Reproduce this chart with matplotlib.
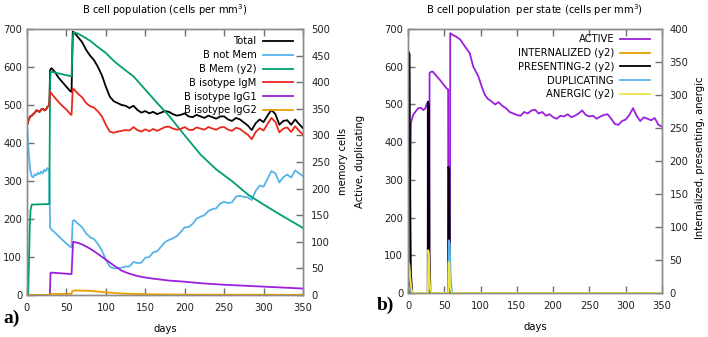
import matplotlib
matplotlib.use('Agg')
import matplotlib.pyplot as plt

plt.rcParams['font.family'] = ['DejaVu Sans']
plt.rcParams['xtick.direction'] = 'in'
plt.rcParams['ytick.direction'] = 'in'
plt.rcParams['xtick.top'] = True

# ---- panel a) : B cell population ----
days_a = [0, 2, 4, 6, 8, 10, 12, 14, 16, 18, 20, 22, 24, 26, 28.3, 29.3, 31, 35, 40, 45, 50, 55, 56.5, 58, 60] + \
         list(range(65, 351, 5))
total = [447, 460, 470, 472, 476, 480, 486, 484, 482, 488, 490, 486, 488, 495, 500, 592, 597, 588, 572, 560, 548, 536,
         535, 693, 690,
         678, 665, 645, 630, 618, 600, 578, 548, 522, 510, 505, 500, 498, 492, 498, 487, 480, 484, 478, 482, 476, 480,
         484, 482, 476, 472, 474, 478, 470, 468, 474, 470, 466, 472, 468, 464, 470, 470, 462, 458, 466, 462, 454, 446,
         434, 452, 462, 455, 472, 487, 476, 448, 458, 460, 448, 462, 450, 439]
not_mem = [447, 380, 330, 312, 310, 318, 315, 322, 318, 325, 320, 330, 326, 334, 330, 178, 172, 165, 155, 145, 135, 127,
           125, 195, 197,
           187, 178, 162, 152, 147, 134, 117, 93, 75, 70, 71, 72, 75, 75, 87, 84, 85, 98, 100, 112, 115, 127,
           139, 145, 149, 155, 166, 178, 179, 187, 201, 206, 210, 221, 226, 228, 241, 245, 242, 244, 259, 261, 258, 257,
           250, 274, 288, 285, 306, 326, 320, 296, 310, 317, 309, 328, 320, 313]
igm = [447, 460, 470, 472, 476, 480, 486, 484, 482, 488, 490, 486, 488, 495, 500, 535, 530, 520, 508, 497, 488, 476,
       474, 544, 540,
       529, 520, 505, 497, 493, 483, 470, 448, 430, 427, 430, 432, 434, 433, 442, 434, 430, 436, 431, 437, 432, 437,
       442, 443, 438, 435, 437, 442, 435, 434, 441, 438, 435, 442, 438, 435, 441, 442, 435, 432, 440, 437, 429, 422,
       410, 429, 439, 433, 450, 466, 455, 428, 438, 441, 429, 444, 432, 422]

mem_days = [0, 1.5, 2.5, 3.5, 4.5, 6, 28.3, 29.3, 30, 56.5, 58, 59, 65, 70, 80, 90, 100, 110, 120, 135, 150, 165, 180,
            200, 220, 240, 260, 280, 300, 320, 350]
mem = [0, 0, 60, 130, 160, 170, 171, 400, 420, 411, 480, 494, 491, 487, 478, 466, 455, 440, 428, 411, 386, 361, 337,
       300, 264, 236, 214, 189, 170, 152, 126]

igg1_days = [0, 29, 29.8, 31, 56.5, 57.5, 58.5, 65, 70, 80, 90, 100, 110, 120, 130, 140, 150, 160, 180, 200, 220, 250,
             300, 350]
igg1 = [0, 0, 58, 59, 55, 100, 140, 137, 133, 122, 108, 93, 78, 64, 56, 50, 46, 43, 38, 35, 31, 27, 22, 17]

igg2_days = [0, 29, 30, 56.5, 57.5, 60, 80, 100, 120, 150, 200, 350]
igg2 = [0, 0, 3, 3, 10, 12, 11, 7, 4, 2, 1, 0.5]

# ---- panel b) : B cell population per state ----
act_days = [0, 2.5, 3.2, 4, 7, 10, 14, 18, 21, 24, 26, 27.2, 27.4, 29.4, 29.7, 31, 34, 38, 44, 50, 53, 55.3, 55.5,
            57.8, 58.2, 60, 66, 72, 78, 85, 90, 97, 102, 106] + list(range(110, 351, 5))
active = [0, 0, 300, 450, 472, 480, 490, 491, 485, 490, 503, 500, 0, 0, 583, 586, 587, 578, 565, 550, 543, 540, 0,
          0, 689, 686, 680, 672, 655, 636, 600, 574, 545, 525,
          515, 508, 500, 506, 496, 490, 480, 476, 472, 470, 480, 476, 484, 486, 476, 480, 470, 474, 466, 462, 470,
          468, 474, 466, 470, 476, 484, 472, 468, 470, 462, 468, 472, 474, 462, 448, 446, 456, 460, 472, 490, 470,
          456, 466, 462, 458, 464, 446, 441]

int_days = [0, 0.3, 1.5, 3, 5, 27.3, 28, 29.5, 31, 55.3, 56, 57.5, 59, 350]
internalized = [0, 48, 45, 20, 0, 0, 8, 5, 0, 0, 5, 3, 0, 0]

pres_days = [0, 0.3, 2.2, 3, 4, 6, 27.2, 27.5, 28.9, 29.6, 31, 55.3, 55.6, 56.9, 57.6, 59, 350]
presenting = [0, 366, 362, 150, 30, 0, 0, 290, 285, 60, 0, 0, 191, 185, 40, 0, 0]

dup_days = [0, 0.5, 2, 4, 6, 27.5, 28.5, 29.5, 31, 33, 55.5, 56.3, 57.5, 59, 61, 350]
duplicating = [0, 10, 15, 5, 0, 0, 20, 25, 5, 0, 0, 140, 130, 30, 0, 0]

an_days = [0, 0.5, 2, 3, 5, 7, 27.4, 27.8, 28.8, 30, 32, 55.5, 55.9, 56.9, 58, 60, 350]
anergic = [0, 45, 42, 25, 5, 0, 0, 65, 60, 15, 0, 0, 47, 45, 10, 0, 0]

PURPLE = '#9a20dc'
LBLUE = '#56b4e9'
GREEN = '#009e73'
RED = '#e8281a'
ORANGE = '#e69f00'
YELLOW = '#f0e442'
GREY = '#8c8c8c'
TICK = '#707070'
FS = 7.2
LW = 1.3

fig = plt.figure(figsize=(7.08, 3.37), dpi=100)


def style(ax, ax2, pad2):
    for a in (ax, ax2):
        for s in a.spines.values():
            s.set_color(GREY)
            s.set_linewidth(1.0)
    ax.tick_params(direction='in', length=5, width=1.0, color=TICK, labelsize=FS, labelcolor='#222222',
                   top=True, pad=4)
    ax.tick_params(axis='y', pad=3.5)
    ax.tick_params(axis='x', pad=5.5)
    ax2.tick_params(direction='in', length=5, width=1.0, color=TICK, labelsize=FS, labelcolor='#222222',
                    pad=pad2)
    ax.set_xlim(0, 350)
    ax.set_xticks(range(0, 351, 50))


# panel a
ax = fig.add_axes([27 / 708, 1 - 295 / 337, 276 / 708, 266 / 337])
ax2 = ax.twinx()
ax.set_zorder(ax2.get_zorder() + 1)
ax.patch.set_visible(False)
ax.set_ylim(0, 700)
ax.set_yticks(range(0, 701, 100))
ax2.set_ylim(0, 500)
ax2.set_yticks(range(0, 501, 50))
style(ax, ax2, 6)

# same drawing order as the legend, y2 series through ax2's scale
ax.plot(days_a, total, color='black', lw=LW, label='Total')
ax.plot(days_a, not_mem, color=LBLUE, lw=LW, label='B not Mem')
ax.plot(mem_days, mem, color=GREEN, lw=LW, label='B Mem (y2)', transform=ax2.transData)
ax.plot(days_a, igm, color=RED, lw=LW, label='B isotype IgM')
ax.plot(igg1_days, igg1, color=PURPLE, lw=LW, label='B isotype IgG1')
ax.plot(igg2_days, igg2, color=ORANGE, lw=LW, label='B isotype IgG2')
ax.set_ylim(0, 700)

ax.legend(loc='upper right', bbox_to_anchor=(0.962, 0.972), frameon=False, markerfirst=False, fontsize=FS,
          handlelength=3.0, handletextpad=0.6, labelspacing=0.38, borderpad=0, borderaxespad=0)
fig.text(165 / 708, 1 - 10 / 337, 'B cell population (cells per mm$^3$)', ha='center', va='center', fontsize=FS)

# panel b
bx = fig.add_axes([408 / 708, 1 - 293 / 337, 254 / 708, 264 / 337])
bx2 = bx.twinx()
bx.set_zorder(bx2.get_zorder() + 1)
bx.patch.set_visible(False)
bx2.set_ylim(0, 400)
bx2.set_yticks(range(0, 401, 50))
style(bx, bx2, 5.5)

bx.plot(act_days, active, color=PURPLE, lw=LW, label='ACTIVE')
bx.plot(int_days, internalized, color=ORANGE, lw=LW, label='INTERNALIZED (y2)', transform=bx2.transData)
bx.plot(pres_days, presenting, color='black', lw=LW, label='PRESENTING-2 (y2)', transform=bx2.transData)
bx.plot(dup_days, duplicating, color=LBLUE, lw=LW, label='DUPLICATING')
bx.plot(an_days, anergic, color=YELLOW, lw=LW, label='ANERGIC (y2)', transform=bx2.transData)
bx.set_ylim(0, 700)
bx.set_yticks(range(0, 701, 100))

bx.legend(loc='upper right', bbox_to_anchor=(0.953, 0.98), frameon=False, markerfirst=False, fontsize=FS,
          handlelength=3.0, handletextpad=0.6, labelspacing=0.38, borderpad=0, borderaxespad=0)
fig.text(535 / 708, 1 - 10 / 337, 'B cell population  per state (cells per mm$^3$)', ha='center', va='center',
         fontsize=FS)

# axis labels
fig.text(165 / 708, 1 - 329 / 337, 'days', ha='center', va='center', fontsize=FS)
fig.text(535 / 708, 1 - 327 / 337, 'days', ha='center', va='center', fontsize=FS)
fig.text(343 / 708, 1 - 161 / 337, 'memory cells', rotation=90, ha='center', va='center', fontsize=FS)
fig.text(360 / 708, 1 - 161 / 337, 'Active, duplicating', rotation=90, ha='center', va='center', fontsize=FS)
fig.text(700 / 708, 1 - 158 / 337, 'Internalized, presenting, anergic', rotation=90, ha='center', va='center',
         fontsize=FS)

fig.text(12 / 708, 1 - 318 / 337, 'a)', ha='center', va='center', fontsize=14, fontweight='bold',
         family='Liberation Serif')
fig.text(385 / 708, 1 - 305 / 337, 'b)', ha='center', va='center', fontsize=14, fontweight='bold',
         family='Liberation Serif')

fig.savefig('out.png', dpi=100)
